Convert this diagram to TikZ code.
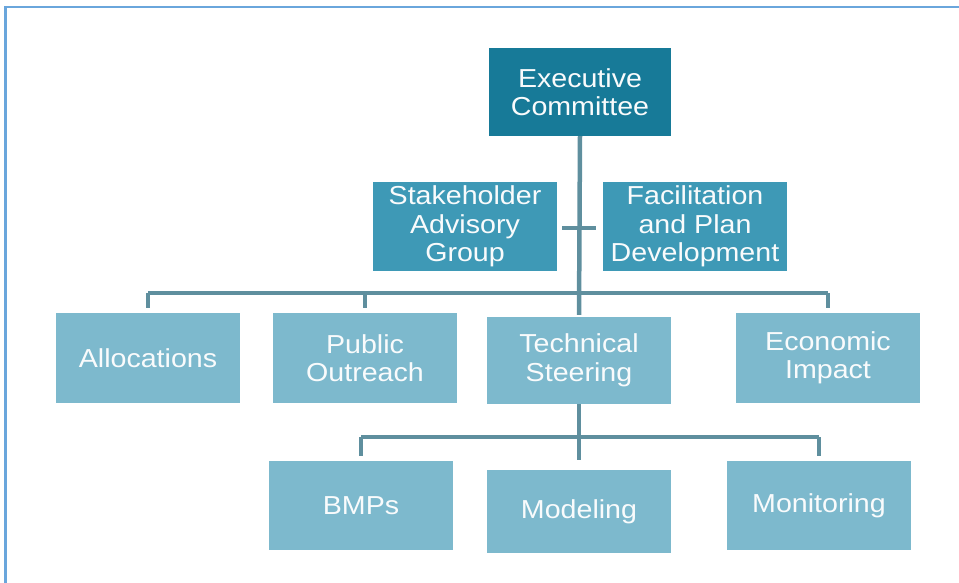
\documentclass[tikz,border=0pt]{standalone}
\usepackage{fontspec}
\setmainfont{Liberation Sans}[FakeStretch=1.1]
\usepackage{tikz}
\definecolor{topblue}{HTML}{177A98}
\definecolor{midblue}{HTML}{3E99B6}
\definecolor{lowblue}{HTML}{7DB9CD}
\definecolor{linkcol}{HTML}{5F8F9E}
\definecolor{framecol}{HTML}{6AA6DC}
\newcommand{\orgfont}{\fontsize{26}{28.5}\selectfont}

\begin{document}
\begin{tikzpicture}
  [x=1pt,y=-1pt,
   unit/.style={text=white!95!lowblue,font=\orgfont,align=center,
     minimum width=184pt,minimum height=89pt,inner sep=0pt},
   top/.style={unit,fill=topblue,minimum width=182pt,minimum height=88pt},
   side/.style={unit,fill=midblue},
   team/.style={unit,fill=lowblue},
   link/.style={draw=linkcol,line width=4.5pt,line join=round}]
  \useasboundingbox (0,0) rectangle (959,583);
  \draw[framecol,line width=2.5pt] (5.5,583) -- (5.5,7) -- (959,7);

  \node[top] (exec) at (580,92) {Executive\\Committee};
  \node[side] (sag) at (465,226.5) {Stakeholder\\Advisory\\Group};
  \node[side] (fpd) at (695,226.5) {Facilitation\\and Plan\\Development};
  \node[team,minimum height=90pt] (alloc) at (148,358) {Allocations};
  \node[team,minimum height=90pt] (pub) at (365,358) {Public\\Outreach};
  \node[team,minimum height=87pt] (tech) at (579,360.5) {Technical\\Steering};
  \node[team,minimum height=90pt] (econ) at (828,358) {Economic\\Impact};
  \node[team] (bmp) at (361,505.5) {BMPs};
  \node[team,minimum height=83pt] (model) at (579,511.5) {Modeling};
  \node[team] (monit) at (819,505.5) {Monitoring};

  \coordinate (cross) at (579,228);
  \coordinate (busa) at (579,293);
  \coordinate (busb) at (579,437);

  % upper levels
  \draw[link] (exec.south) -- ([yshift=2pt]tech.north);
  \draw[link] ([xshift=-17pt]cross) -- ([xshift=17pt]cross);
  \draw[link] (alloc.north |- busa) -- (econ.north |- busa);
  \foreach \to in {alloc,pub,econ}
    \draw[link] (\to.north |- busa) -- ([yshift=5pt]\to.north);

  % technical teams
  \draw[link] (tech.south) -- ([yshift=10pt]model.north);
  \draw[link] (bmp.north |- busb) -- (monit.north |- busb);
  \foreach \to in {bmp,monit}
    \draw[link] (\to.north |- busb) -- ([yshift=5pt]\to.north);
\end{tikzpicture}
\end{document}
